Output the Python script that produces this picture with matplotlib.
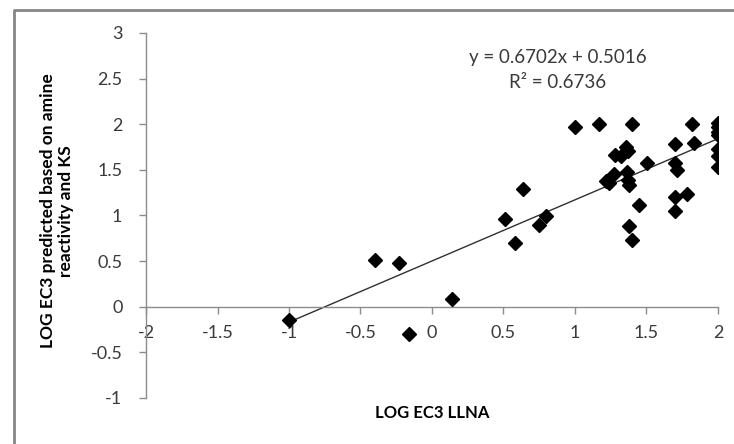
import matplotlib
matplotlib.use("Agg")
import matplotlib.pyplot as plt
from matplotlib.lines import Line2D
import numpy as np

plt.rcParams['font.family'] = ['Lato', 'DejaVu Sans']

# LOG EC3 LLNA vs predicted
llna = [-1.0, -0.40, -0.23, 0.14, -0.16, 0.51, 0.58, 0.634, 0.75, 0.80,
        1.0, 1.17, 1.40, 1.82, 2.0, 2.0, 2.0, 2.0, 2.0, 2.0, 2.0,
        1.355, 1.37, 1.28, 1.32, 1.506, 1.70, 1.83, 1.70, 1.71,
        1.366, 1.275, 1.37, 1.38, 1.215, 1.24, 1.45, 1.70, 1.78, 1.70,
        1.375, 1.40]
predicted = [-0.15, 0.515, 0.48, 0.08, -0.30, 0.96, 0.70, 1.29, 0.90, 0.99,
             1.97, 2.0, 2.0, 2.0, 2.01, 1.97, 1.92, 1.88, 1.73, 1.65, 1.53,
             1.75, 1.71, 1.66, 1.65, 1.58, 1.78, 1.79, 1.58, 1.50,
             1.48, 1.45, 1.39, 1.33, 1.38, 1.36, 1.12, 1.20, 1.24, 1.05,
             0.89, 0.735]

slope = 0.6702
intercept = 0.5016
r2 = 0.6736
fit_range = [-1.0, 2.0]

xticks = [-2, -1.5, -1, -0.5, 0, 0.5, 1, 1.5, 2]
yticks = [-1, -0.5, 0, 0.5, 1, 1.5, 2, 2.5, 3]

W, H = 734, 444
fig = plt.figure(figsize=(W / 100, H / 100), dpi=100)
ax = fig.add_axes([146 / W, 1 - 398 / H, (718 - 146) / W, (398 - 33) / H])

axis_col = '#8c8c8c'
text_col = '#3a3a3a'

ax.plot(llna, predicted, linestyle='none', marker='D', markersize=7,
        color='black', zorder=3)

xf = np.array(fit_range)
ax.plot(xf, slope * xf + intercept, color='#303030', linewidth=1.0, zorder=2)

ax.set_xlim(-2, 2)
ax.set_ylim(-1, 3)
ax.set_xticks(xticks)
ax.set_xticklabels([f'{t:g}' for t in xticks])
ax.set_yticks(yticks)
ax.set_yticklabels([f'{t:g}' for t in yticks])

ax.spines['top'].set_visible(False)
ax.spines['right'].set_visible(False)
ax.spines['bottom'].set_position(('data', 0))
for s in ['left', 'bottom']:
    ax.spines[s].set_color(axis_col)
    ax.spines[s].set_linewidth(1.0)
ax.tick_params(axis='both', direction='out', length=5, width=1,
               color=axis_col, labelcolor=text_col, labelsize=13)
ax.tick_params(axis='x', pad=8)
ax.tick_params(axis='y', pad=12)
ax.patch.set_visible(False)

ax.text(558 / W, 1 - 57 / H, f'y = {slope}x + {intercept}', transform=fig.transFigure,
        ha='center', va='center', fontsize=13.5, color=text_col)
ax.text(558 / W, 1 - 83 / H, f'R² = {r2}', transform=fig.transFigure,
        ha='center', va='center', fontsize=13.5, color=text_col)

fig.text(432 / W, 1 - 413 / H, 'LOG EC3 LLNA', ha='center', va='center',
         fontsize=12, fontweight='bold', color='black')
fig.text(57 / W, 1 - 211 / H, 'LOG EC3 predicted based on amine\nreactivity and KS',
         ha='center', va='center', rotation=90, fontsize=12.5, fontweight='bold',
         color='black', linespacing=1.2, multialignment='center')

# chart border (only left and top edges visible)
fig.add_artist(Line2D([14 / W, 14 / W, 1.0], [0.0, 1 - 10 / H, 1 - 10 / H],
                      transform=fig.transFigure, color='#868686', linewidth=2))

fig.savefig('out.png', dpi=100)
